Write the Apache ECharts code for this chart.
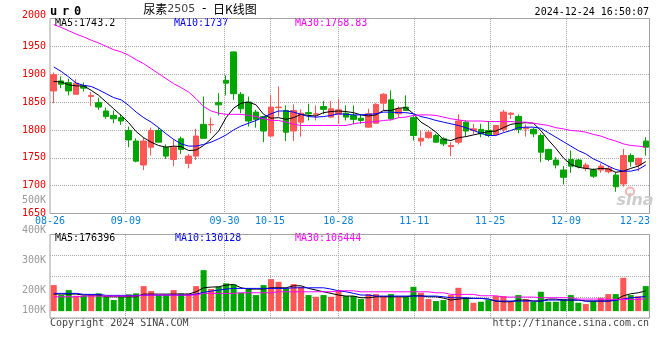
<!DOCTYPE html>
<html>
<head>
<meta charset="utf-8">
<script src="https://cdn.jsdelivr.net/npm/echarts@6/dist/echarts.min.js"></script>
<style>
html,body{margin:0;padding:0;background:#ffffff;}
#chart{width:660px;height:360px;}
</style>
</head>
<body>
<div id="chart"></div>
<script>
// ---------- data ----------
const dates = [
 '08-26','08-27','08-28','08-29','08-30',
 '09-02','09-03','09-04','09-05','09-06',
 '09-09','09-10','09-11','09-12','09-13',
 '09-18','09-19','09-20',
 '09-23','09-24','09-25','09-26','09-27',
 '09-30',
 '10-08','10-09','10-10','10-11',
 '10-14','10-15','10-16','10-17','10-18',
 '10-21','10-22','10-23','10-24','10-25',
 '10-28','10-29','10-30','10-31','11-01',
 '11-04','11-05','11-06','11-07','11-08',
 '11-11','11-12','11-13','11-14','11-15',
 '11-18','11-19','11-20','11-21','11-22',
 '11-25','11-26','11-27','11-28','11-29',
 '12-02','12-03','12-04','12-05','12-06',
 '12-09','12-10','12-11','12-12','12-13',
 '12-16','12-17','12-18','12-19','12-20',
 '12-23','12-24'
];
const xTickLabels = ['08-26','09-09','09-30','10-15','10-28','11-11','11-25','12-09','12-23'];
const xGridLabels = ['09-09','09-30','10-15','10-28','11-11','11-25','12-09'];

const openP  = [1870,1888,1885,1864,1879,1860,1849,1834,1826,1822,1799,1780,1737,1769,1799,1769,1747,1784,1740,1753,
                1810,1809,1849,1889,1940,1864,1850,1832,1824,1789,1840,1835,1798,1814,1831,1828,1842,1823,1828,1830,
                1826,1821,1805,1812,1848,1854,1829,1841,1822,1780,1786,1790,1784,1770,1778,1814,1799,1801,1799,1792,
                1801,1828,1824,1802,1801,1790,1765,1746,1728,1747,1746,1731,1728,1728,1725,1719,1703,1754,1737,1780];
const closeP = [1899,1882,1870,1884,1875,1862,1841,1824,1820,1816,1782,1744,1780,1799,1778,1753,1769,1765,1753,1789,
                1785,1810,1845,1884,1865,1838,1816,1819,1798,1841,1841,1796,1835,1830,1829,1829,1837,1838,1836,1823,
                1819,1817,1829,1846,1864,1820,1838,1835,1790,1785,1796,1778,1775,1772,1816,1798,1802,1793,1790,1808,
                1832,1830,1801,1804,1793,1760,1747,1737,1715,1735,1734,1737,1717,1735,1731,1698,1754,1743,1749,1769];
const lowP   = [1848,1875,1862,1863,1869,1843,1836,1820,1812,1809,1769,1742,1728,1754,1778,1748,1735,1757,1731,1746,
                1785,1794,1826,1862,1854,1830,1806,1804,1778,1788,1824,1780,1780,1788,1817,1817,1828,1822,1811,1817,
                1810,1811,1804,1812,1834,1817,1822,1835,1781,1771,1784,1777,1771,1753,1774,1789,1792,1787,1787,1791,
                1796,1820,1794,1788,1787,1742,1744,1731,1702,1723,1731,1726,1714,1723,1722,1689,1698,1734,1726,1754];
const highP  = [1903,1896,1892,1891,1885,1868,1858,1840,1835,1828,1806,1785,1787,1804,1804,1774,1783,1788,1757,1802,
                1860,1822,1866,1898,1941,1868,1860,1836,1824,1863,1878,1844,1846,1837,1847,1844,1852,1852,1856,1844,
                1844,1828,1838,1848,1866,1871,1842,1862,1826,1799,1800,1793,1787,1778,1828,1817,1811,1811,1816,1808,
                1836,1832,1828,1810,1804,1794,1766,1751,1735,1763,1748,1741,1731,1740,1736,1724,1766,1758,1750,1787];

const ma5  = [1887,1886,1881,1879,1879,1871,1862,1850,1838,1826,1813,1797,1786,1778,1772,1769,1771,1770,1763,1764,
              1772,1784,1798,1822,1839,1848,1850,1845,1828,1821,1822,1819,1822,1828,1826,1825,1831,1833,1834,1833,
              1831,1827,1825,1827,1835,1835,1839,1840,1829,1814,1806,1796,1783,1781,1786,1788,1791,1794,1797,1798,
              1804,1810,1812,1813,1812,1799,1782,1767,1750,1738,1733,1731,1729,1731,1730,1724,1726,1731,1735,1743.2];
const ma10 = [1913,1905,1895,1884,1880,1878,1872,1865,1858,1854,1844,1832,1822,1814,1804,1793,1783,1775,1771,1771,
              1774,1778,1784,1791,1800,1807,1812,1817,1823,1829,1834,1834,1832,1828,1824,1823,1824,1826,1829,1828,
              1827,1827,1828,1829,1832,1832,1831,1831,1829,1824,1821,1817,1814,1811,1808,1804,1799,1794,1790,1790,
              1795,1799,1804,1805,1805,1803,1795,1787,1779,1771,1763,1757,1748,1742,1735,1729,1726,1726,1729,1737];
const ma30 = [1989,1984,1978,1972,1967,1961,1956,1950,1944,1940,1934,1926,1919,1910,1901,1892,1883,1876,1868,1856,
              1842,1834,1830,1828,1828,1828,1826,1824,1820,1817,1817,1814,1810,1808,1808,1808,1808,1808,1808,1808,
              1811,1813,1814,1815,1817,1818,1822,1823,1826,1827,1827,1826,1823,1820,1818,1816,1816,1816,1815,1815,
              1815,1815,1814,1814,1812,1810,1808,1804,1802,1799,1798,1796,1792,1789,1784,1780,1775,1772,1771,1768.83];

const volume = [227600,140400,184000,134300,134300,140400,155300,125600,96800,125600,146500,155300,218900,175300,140400,140400,184000,155300,155300,218900,
                358500,192800,212800,242500,233800,160500,198900,140400,227600,280000,256400,198900,236400,212800,140400,125600,140400,125600,184000,131700,
                131700,105500,149100,149100,131700,149100,125600,125600,212800,160500,105500,88100,96800,140400,204100,116900,73300,82000,96800,131700,
                131700,88100,140400,105500,82000,169200,82000,82000,105500,140400,73300,61900,88100,116900,149100,149100,291300,140400,131700,218900];
const volMa5  = [149100,149100,149100,149100,140400,140400,140400,125600,125600,125600,125600,125600,149100,149100,149100,149100,149100,149100,149100,169200,
                 204100,210200,212800,227600,233800,204100,192800,192800,192800,204100,204100,204100,221500,221500,198900,184000,169200,155300,140400,131700,
                 131700,116900,116900,125600,125600,125600,125600,125600,134300,134300,125600,125600,114300,96800,105500,111600,111600,111600,105500,88100,
                 82000,82000,96800,96800,88100,88100,105500,105500,96800,96800,96800,88100,88100,88100,88100,96800,134300,151800,160500,176396];
const volMa10 = [155300,155300,155300,155300,146500,146500,146500,137800,137800,137800,137800,137800,137800,140400,140400,140400,140400,140400,140400,149100,
                 164000,175300,184000,192800,198900,198900,198900,198900,198900,198900,198900,198900,204100,204100,204100,204100,204100,192800,177900,169200,
                 155300,140400,140400,131700,131700,131700,131700,131700,131700,131700,131700,131700,125600,116900,116900,116900,111600,111600,105500,88100,
                 88100,88100,88100,88100,88100,88100,96800,96800,96800,96800,96800,88100,88100,88100,88100,94200,105500,116900,120400,130128];
const volMa30 = [125600,125600,125600,125600,131700,131700,131700,131700,131700,131700,131700,131700,140400,140400,140400,140400,140400,140400,140400,140400,
                 155300,155300,155300,155300,155300,160500,160500,160500,160500,160500,169200,169200,169200,169200,169200,169200,169200,169200,177900,177900,
                 177900,169200,169200,169200,169200,169200,169200,169200,169200,169200,169200,160500,160500,146500,146500,146500,146500,134300,134300,134300,
                 123000,123000,123000,123000,123000,116900,116900,116900,116900,116900,105500,105500,105500,105500,102900,102900,102900,102900,102900,106444];

const priceTicks = [1650,1700,1750,1800,1850,1900,1950,2000];
const volumeTickLabels = ['100K','200K','300K','400K','500K'];
const legendMain = ['MA5:1743.2','MA10:1737','MA30:1768.83'];
const legendVol  = ['MA5:176396','MA10:130128','MA30:106444'];

// ---------- chart ----------
const RED = '#ff5656', GREEN = '#00a600';
const MONO = '"DejaVu Sans Mono", monospace';
const GRID_COLOR = '#a8a8a8';
const GRIDLINE = {color:GRID_COLOR, type:'dotted', width:1};
const labelIdx = new Set(xTickLabels.map(d => dates.indexOf(d)));
const showLabel = (i, v) => labelIdx.has(i) || xTickLabels.includes(v);

const ohlc = openP.map((o,i)=>[o, closeP[i], lowP[i], highP[i]]);
const volData = volume.map((v,i)=>({value:v, itemStyle:{color: closeP[i] >= openP[i] ? RED : GREEN}}));

const GRID_LEFT = 50, GRID_W = 599.5;
const chart = echarts.init(document.getElementById('chart'));
const baseGraphic = [
    {type:'text', x:47.6, y:12, style:{text:'{a|u}{a|r}{a|0}', verticalAlign:'middle',
      rich:{a:{font:'bold 12px '+MONO, fill:'#000', padding:[0,2.4,0,2.4]}}}},
    {type:'text', x:200, y:9, style:{text:'{c|尿素}{n|2505}{d| - }{c|日K线图}', align:'center', verticalAlign:'middle',
      rich:{c:{font:'12px "Noto Sans CJK SC"', fill:'#000'},
            n:{font:'11px "DejaVu Sans"', fill:'#444'},
            d:{font:'12px "DejaVu Sans"', fill:'#000', padding:[0,3,0,3]}}}},
    {type:'text', x:649, y:12, style:{text:'2024-12-24 16:50:07', font:'10px '+MONO, fill:'#000', align:'right', verticalAlign:'middle'}},
    {type:'text', x:55, y:23.5, style:{text:legendMain[0], font:'10px '+MONO, fill:'#000', verticalAlign:'middle'}},
    {type:'text', x:174, y:23.5, style:{text:legendMain[1], font:'10px '+MONO, fill:'#0000ff', verticalAlign:'middle'}},
    {type:'text', x:295, y:23.5, style:{text:legendMain[2], font:'10px '+MONO, fill:'#ff00ff', verticalAlign:'middle'}},
    {type:'text', x:55, y:238.5, style:{text:legendVol[0], font:'10px '+MONO, fill:'#000', verticalAlign:'middle'}},
    {type:'text', x:175, y:238.5, style:{text:legendVol[1], font:'10px '+MONO, fill:'#0000ff', verticalAlign:'middle'}},
    {type:'text', x:295, y:238.5, style:{text:legendVol[2], font:'10px '+MONO, fill:'#ff00ff', verticalAlign:'middle'}},
    {type:'text', x:50, y:323, style:{text:'Copyright 2024 SINA.COM', font:'10px '+MONO, fill:'#444', verticalAlign:'middle'}},
    {type:'text', x:649, y:323, style:{text:'http://finance.sina.com.cn', font:'10px '+MONO, fill:'#444', align:'right', verticalAlign:'middle'}},
    {type:'circle', shape:{cx:630, cy:191.5, r:4}, style:{fill:'none', stroke:'#f2b3b3', lineWidth:2}, z:1},
    {type:'text', x:635, y:201, style:{text:'sina', font:'italic bold 16px "DejaVu Sans"', fill:'#cdcdcd', align:'center', verticalAlign:'middle'}, z:1}
];
const option = {
  animation: false,
  grid: [
    {left:GRID_LEFT, top:18.5, width:GRID_W, height:195, show:true, borderColor:'#a0a0a0', borderWidth:1, backgroundColor:'transparent'},
    {left:GRID_LEFT, top:234.5, width:GRID_W, height:83.5, show:true, borderColor:'#a0a0a0', borderWidth:1, backgroundColor:'transparent'},
    {left:GRID_LEFT, top:200, width:GRID_W, height:120, show:false}
  ],
  xAxis: [
    {gridIndex:0, type:'category', data:dates, boundaryGap:true, show:false, position:'bottom'},
    {gridIndex:0, type:'category', data:dates, boundaryGap:false, position:'bottom',
     axisLine:{show:false}, axisTick:{show:false},
     axisLabel:{show:true, margin:3, interval:showLabel,
       color:'#0a80d8', fontFamily:MONO, fontSize:10,
       formatter:v=> v==='12-23' ? '{e|'+v+'}' : v,
       rich:{e:{padding:[0,14,0,0], color:'#0a80d8', fontFamily:MONO, fontSize:10}}},
     splitLine:{show:false}},
    {gridIndex:1, type:'category', data:dates, boundaryGap:true, show:false, position:'bottom'},
    {gridIndex:1, type:'category', data:dates, boundaryGap:false, position:'bottom',
     axisLine:{show:false}, axisTick:{show:false}, axisLabel:{show:false}, splitLine:{show:false}},
    {gridIndex:2, type:'value', show:false}
  ],
  yAxis: [
    {gridIndex:0, type:'value', min:priceTicks[0], max:priceTicks[priceTicks.length-1], interval:priceTicks[1]-priceTicks[0],
     axisLine:{show:false}, axisTick:{show:false},
     axisLabel:{color:'#ee0000', fontFamily:MONO, fontSize:10, margin:4,
       formatter:v=> v===2000 ? '{t|'+v+'}' : String(v),
       rich:{t:{padding:[0,0,6,0], color:'#ee0000', fontFamily:MONO, fontSize:10}}},
     splitLine:{show:true, lineStyle:GRIDLINE}},
    {gridIndex:1, type:'value', min:-60000, max:670000, interval:182500,
     axisLine:{show:false}, axisTick:{show:false}, axisLabel:{show:false},
     splitLine:{show:true, lineStyle:GRIDLINE}},
    {gridIndex:2, type:'category', data:volumeTickLabels, boundaryGap:false,
     axisLine:{show:false}, axisTick:{show:false}, splitLine:{show:false},
     axisLabel:{color:'#9a9a9a', fontFamily:MONO, fontSize:10, margin:4, interval:0,
       formatter:v=> v==='100K' ? '{u|'+v+'}' : v,
       rich:{u:{padding:[0,0,20,0], color:'#9a9a9a', fontFamily:MONO, fontSize:10}}}}
  ],
  series: [
    {type:'candlestick', xAxisIndex:0, yAxisIndex:0, data:ohlc, barWidth:6,
     itemStyle:{color:RED, color0:GREEN, borderColor:RED, borderColor0:GREEN, borderWidth:1}},
    {type:'line', xAxisIndex:0, yAxisIndex:0, data:ma5, symbol:'none', lineStyle:{color:'#000000', width:1}, z:5},
    {type:'line', xAxisIndex:0, yAxisIndex:0, data:ma10, symbol:'none', lineStyle:{color:'#0000ff', width:1}, z:5},
    {type:'line', xAxisIndex:0, yAxisIndex:0, data:ma30, symbol:'none', lineStyle:{color:'#ff00ff', width:1}, z:5},
    {type:'bar', xAxisIndex:2, yAxisIndex:1, data:volData, barWidth:6},
    {type:'line', xAxisIndex:2, yAxisIndex:1, data:volMa5, symbol:'none', lineStyle:{color:'#000000', width:1}, z:5},
    {type:'line', xAxisIndex:2, yAxisIndex:1, data:volMa10, symbol:'none', lineStyle:{color:'#0000ff', width:1}, z:5},
    {type:'line', xAxisIndex:2, yAxisIndex:1, data:volMa30, symbol:'none', lineStyle:{color:'#ff00ff', width:1}, z:5}
  ],
  graphic: baseGraphic
};
chart.setOption(option);

// vertical dotted grid lines at the labelled dates: 1x1 dots, positioned through the label axes' scales
const panels = [
  {xi:1, top:19, bottom:213},
  {xi:3, top:235, bottom:318}
];
const dots = [];
panels.forEach(p => {
  xGridLabels.forEach(d => {
    let px = chart.convertToPixel({xAxisIndex: p.xi}, d);
    if (Array.isArray(px)) px = px[0];
    const x = Math.floor(px);
    for (let y = p.top; y < p.bottom; y += 2) {
      dots.push({type:'rect', silent:true, z:0,
        shape:{x:x, y:y, width:1, height:1},
        style:{fill:GRID_COLOR}});
    }
  });
});
chart.setOption({graphic: {elements: baseGraphic.concat(dots)}});
</script>
</body>
</html>
